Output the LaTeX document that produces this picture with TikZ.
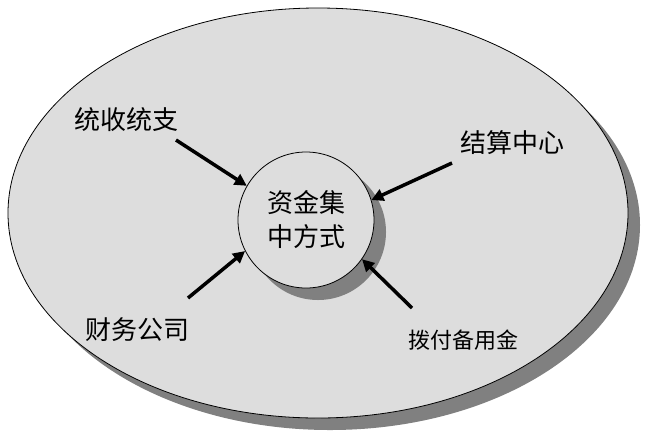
\documentclass[tikz,border=0pt]{standalone}
\usepackage{fontspec}
\newfontfamily\cjk{Noto Sans CJK SC}
\usetikzlibrary{arrows.meta}
\definecolor{bg}{HTML}{DDDDDD}
\definecolor{sh}{HTML}{808080}
\tikzset{lbl/.style={font=\cjk\fontsize{26}{30}\selectfont,inner sep=0pt},
 arr/.style={line width=3.5pt,-{Triangle[length=12pt,width=12pt]}}}
\begin{document}
\begin{tikzpicture}[x=1pt,y=-1pt]
\useasboundingbox (0,0) rectangle (652,440);
\fill[sh] (330,225) ellipse [x radius=310,y radius=205];
\draw[fill=bg,line width=0.8pt] (318,213) ellipse [x radius=310,y radius=205];
\fill[sh] (318,232) circle (68);
\node[circle,draw,fill=bg,line width=0.8pt,minimum size=136pt,inner sep=0pt,align=center,font=\cjk\fontsize{26}{34}\selectfont] (c) at (306,220) {资金集\\中方式};
\node[lbl] (a) at (126,120) {统收统支};
\node[lbl] (b) at (512,143) {结算中心};
\node[lbl] (d) at (137,330) {财务公司};
\node[lbl,font=\cjk\fontsize{22}{26}\selectfont] (e) at (463,340) {拨付备用金};
\coordinate (a1) at (176,140); \coordinate (b1) at (452,163);
\coordinate (d1) at (188,298); \coordinate (e1) at (412,308);
\draw[arr] (a1) -- (c.150);
\draw[arr] (b1) -- (c.17);
\draw[arr] (d1) -- (c.207);
\draw[arr] (e1) -- (c.-35);
\end{tikzpicture}
\end{document}
